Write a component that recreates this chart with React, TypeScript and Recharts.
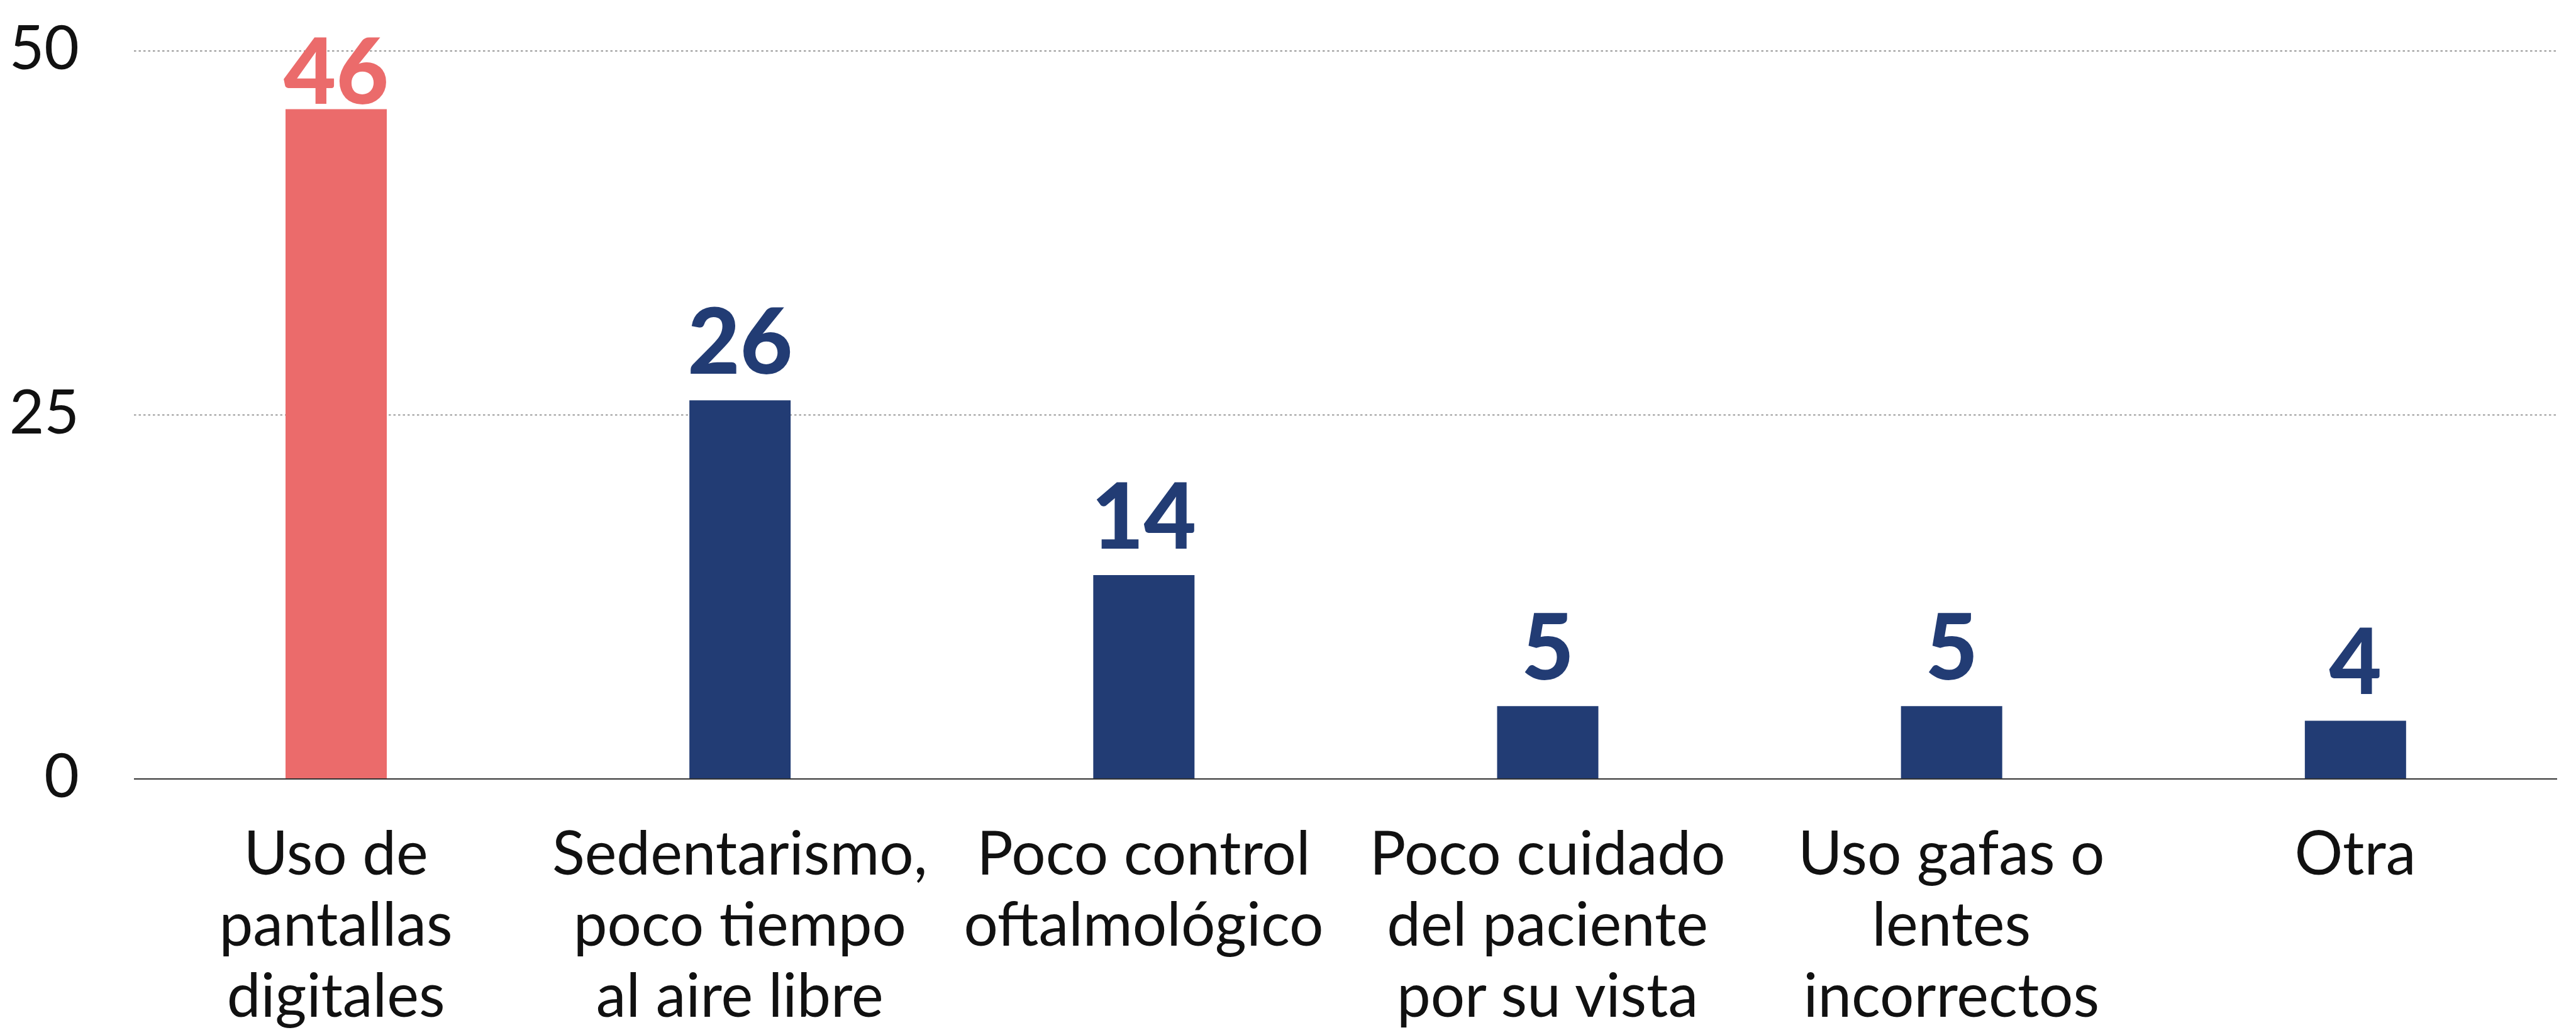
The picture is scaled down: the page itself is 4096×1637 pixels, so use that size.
import { BarChart, Bar, XAxis, YAxis, CartesianGrid, Cell, LabelList } from 'recharts'

const categories = [
  'Uso de\npantallas\ndigitales',
  'Sedentarismo,\npoco tiempo\nal aire libre',
  'Poco control\noftalmológico',
  'Poco cuidado\ndel paciente\npor su vista',
  'Uso gafas o\nlentes\nincorrectos',
  'Otra',
]
const values = [46, 26, 14, 5, 5, 4]
const yTicks = [0, 25, 50]
const highlightIndex = 0

const data = categories.map((name, i) => ({ name, value: values[i] }))

const CORAL = '#EB6B6B'
const NAVY = '#223C74'
const FONT = 'Lato, "Open Sans", sans-serif'

const XTick = ({ x, y, payload }: any) => {
  const lines = String(payload.value).split('\n')
  return (
    <text x={x} y={y} textAnchor="middle" fill="#111" fontFamily={FONT} fontSize={96}>
      {lines.map((l, i) => (
        <tspan key={i} x={x} y={y + 152 + i * 113}>{l}</tspan>
      ))}
    </text>
  )
}

const YTick = ({ x, y, payload }: any) => (
  <text x={x} y={y} dy={29} textAnchor="end" fill="#111" fontFamily={FONT} fontSize={96}>
    {payload.value}
  </text>
)

const ValueLabel = ({ x, y, width, value, index }: any) => {
  const base = Math.max(y - 42, 165)
  return (
    <text
      x={x + width / 2}
      y={base}
      textAnchor="middle"
      fill={index === highlightIndex ? CORAL : NAVY}
      fontFamily={FONT}
      fontWeight={900}
      fontSize={144}
    >
      {value}
    </text>
  )
}

export default function App() {
  return (
    <div style={{ position: 'absolute', left: 0, top: 0, background: '#fff' }}>
      <BarChart width={4096} height={1637} data={data} margin={{ top: 81, right: 30, left: 0, bottom: 0 }} barCategoryGap="37.5%">
        <CartesianGrid vertical={false} stroke="#9a9a9a" strokeWidth={2} strokeDasharray="3.5 4" />
        <XAxis
          dataKey="name"
          height={399}
          interval={0}
          tickLine={false}
          tickSize={0}
          tickMargin={0}
          axisLine={{ stroke: '#333', strokeWidth: 2.2 }}
          tick={<XTick />}
        />
        <YAxis
          width={213}
          domain={[0, 50]}
          ticks={yTicks}
          axisLine={false}
          tickLine={false}
          tickSize={0}
          tickMargin={87}
          tick={<YTick />}
        />
        <Bar dataKey="value" barSize={161} isAnimationActive={false}>
          {data.map((d, i) => (
            <Cell key={d.name} fill={i === highlightIndex ? CORAL : NAVY} />
          ))}
          <LabelList dataKey="value" content={<ValueLabel />} />
        </Bar>
      </BarChart>
    </div>
  )
}
